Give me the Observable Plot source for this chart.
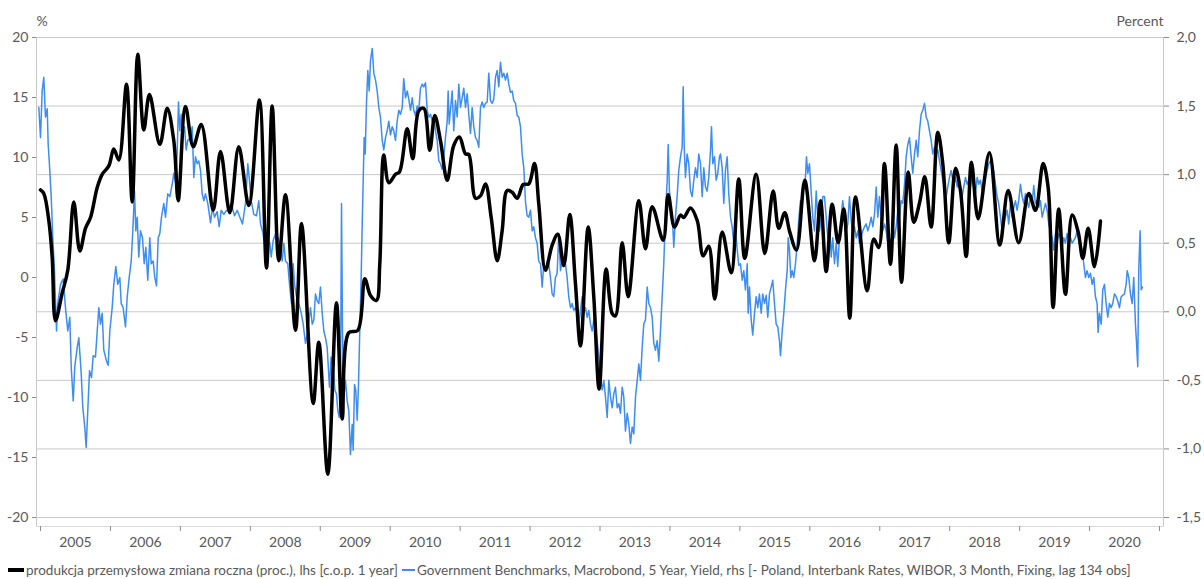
<!DOCTYPE html>
<html>
<head>
<meta charset="utf-8">
<script src="https://cdn.jsdelivr.net/npm/d3@7"></script>
<script src="https://cdn.jsdelivr.net/npm/@observablehq/plot@0.6"></script>
<style>
  html, body { margin: 0; padding: 0; background: #fff; }
  #chart svg { display: block; }
  #legend { height: 24px; display: flex; align-items: center; padding-left: 8px; font-family: Lato, sans-serif; font-size: 13.5px; color: #595959; white-space: nowrap; margin-top: 3px; }
  .sw { display: inline-block; width: 16px; margin-right: 2px; }
</style>
</head>
<body>
<div id="chart"></div>
<div id="legend">
  <span class="sw" style="height:4px;background:#000"></span><span>produkcja przemysłowa zmiana roczna (proc.), lhs [c.o.p. 1 year]</span>
  <span class="sw" style="height:2px;background:#3d8ef0;margin-left:4px;width:13px"></span><span>Government Benchmarks, Macrobond, 5 Year, Yield, rhs [- Poland, Interbank Rates, WIBOR, 3 Month, Fixing, lag 134 obs]</span>
</div>
<script>
// Left axis (%) and right axis (Percent) ticks
const leftTicks = [-20, -15, -10, -5, 0, 5, 10, 15, 20];
const rightTicks = [-1.5, -1.0, -0.5, 0.0, 0.5, 1.0, 1.5, 2.0];
const yearTicks = [2005,2006,2007,2008,2009,2010,2011,2012,2013,2014,2015,2016,2017,2018,2019,2020,2021];
const yearLabels = [2005,2006,2007,2008,2009,2010,2011,2012,2013,2014,2015,2016,2017,2018,2019,2020];

// Industrial production y/y (lhs), decimal years
const ipYears = [2005.00,2005.047,2005.119,2005.167,2005.214,2005.31,2005.39,2005.476,2005.562,2005.643,2005.715,2005.811,2005.882,2005.977,2006.048,2006.12,2006.23,2006.311,2006.391,2006.477,2006.558,2006.706,2006.812,2006.906,2006.969,2007.073,2007.183,2007.298,2007.469,2007.574,2007.707,2007.835,2007.978,2008.131,2008.231,2008.313,2008.407,2008.503,2008.646,2008.732,2008.899,2008.979,2009.108,2009.232,2009.314,2009.408,2009.537,2009.637,2009.718,2009.804,2009.851,2009.908,2009.98,2010.076,2010.133,2010.243,2010.323,2010.409,2010.48,2010.566,2010.638,2010.719,2010.815,2010.909,2010.991,2011.077,2011.124,2011.22,2011.291,2011.363,2011.444,2011.53,2011.601,2011.673,2011.744,2011.816,2011.902,2011.982,2012.063,2012.125,2012.22,2012.316,2012.396,2012.482,2012.568,2012.649,2012.721,2012.831,2012.911,2012.988,2013.088,2013.174,2013.221,2013.317,2013.403,2013.555,2013.65,2013.746,2013.903,2013.975,2014.065,2014.151,2014.198,2014.294,2014.39,2014.475,2014.555,2014.641,2014.747,2014.876,2014.984,2015.07,2015.233,2015.356,2015.476,2015.556,2015.642,2015.713,2015.809,2015.928,2016.067,2016.153,2016.234,2016.32,2016.406,2016.486,2016.571,2016.653,2016.82,2016.914,2016.986,2017.067,2017.153,2017.235,2017.311,2017.407,2017.486,2017.572,2017.644,2017.735,2017.83,2017.901,2017.987,2018.083,2018.154,2018.236,2018.311,2018.407,2018.568,2018.716,2018.836,2018.987,2019.13,2019.226,2019.336,2019.408,2019.479,2019.559,2019.655,2019.751,2019.837,2019.903,2019.98,2020.07,2020.156];
const ipValues = [7.3,7.0,4.75,1.7,-3.6,-1.3,0.6,6.3,2.2,4.1,5.0,7.5,8.6,9.3,10.7,9.8,16.1,6.3,18.6,12.3,15.25,11.1,14.1,11.4,6.4,14.25,10.9,12.75,5.6,10.5,5.4,10.9,6.0,14.8,0.8,14.3,1.4,6.9,-4.4,4.5,-10.5,-5.4,-16.4,-2.1,-11.8,-4.6,-4.4,-0.1,-1.5,-1.9,1.1,10.2,7.9,8.6,8.8,12.4,9.9,13.9,14.1,10.6,13.5,11.4,8.1,11.0,11.7,10.3,10.25,6.6,6.8,7.8,5.0,1.4,3.9,7.25,7.1,6.6,7.75,7.8,9.5,6.1,0.6,2.7,3.6,1.0,5.25,-0.5,-5.7,4.2,-1.6,-9.3,0.7,-3.0,-3.2,2.9,-1.6,6.4,2.4,5.9,3.1,6.9,4.2,5.2,5.0,5.8,4.75,1.8,2.6,-1.8,3.8,0.4,8.2,1.6,8.6,2.0,7.2,4.1,5.4,3.8,2.3,8.1,1.4,6.4,0.5,6.1,2.9,5.7,-3.4,6.7,-1.1,3.2,2.5,9.5,1.1,11.05,-0.4,8.8,4.6,6.3,8.4,4.2,12.1,9.5,2.9,9.1,7.25,1.75,9.6,4.9,10.4,2.7,7.25,2.9,7.0,5.6,9.5,7.5,-2.5,5.7,-1.4,5.2,3.8,1.6,4.1,0.9,4.7];

// WIBOR 3M-style 5Y yield series (rhs), decimal years
const wiborYears = [2004.976,2005.000,2005.024,2005.047,2005.071,2005.096,2005.110,2005.133,2005.153,2005.176,2005.200,2005.229,2005.247,2005.286,2005.325,2005.357,2005.390,2005.419,2005.439,2005.468,2005.490,2005.525,2005.548,2005.582,2005.605,2005.633,2005.653,2005.676,2005.701,2005.729,2005.753,2005.786,2005.811,2005.834,2005.858,2005.882,2005.905,2005.944,2005.968,2005.991,2006.025,2006.048,2006.077,2006.105,2006.134,2006.154,2006.182,2006.215,2006.240,2006.268,2006.297,2006.320,2006.344,2006.363,2006.383,2006.405,2006.430,2006.458,2006.483,2006.506,2006.534,2006.563,2006.583,2006.611,2006.634,2006.659,2006.683,2006.706,2006.730,2006.763,2006.787,2006.820,2006.849,2006.883,2006.906,2006.935,2006.955,2006.973,2006.992,2007.012,2007.030,2007.059,2007.083,2007.106,2007.145,2007.169,2007.192,2007.216,2007.240,2007.263,2007.288,2007.312,2007.335,2007.359,2007.392,2007.431,2007.459,2007.488,2007.526,2007.555,2007.584,2007.621,2007.659,2007.698,2007.741,2007.774,2007.812,2007.850,2007.888,2007.931,2007.964,2007.984,2008.013,2008.050,2008.088,2008.121,2008.146,2008.178,2008.203,2008.241,2008.279,2008.299,2008.327,2008.360,2008.393,2008.422,2008.432,2008.456,2008.479,2008.503,2008.536,2008.564,2008.589,2008.613,2008.632,2008.660,2008.693,2008.728,2008.756,2008.789,2008.822,2008.860,2008.885,2008.908,2008.932,2008.956,2008.979,2009.003,2009.028,2009.051,2009.075,2009.099,2009.132,2009.156,2009.185,2009.208,2009.232,2009.251,2009.271,2009.289,2009.304,2009.318,2009.337,2009.361,2009.385,2009.408,2009.432,2009.457,2009.471,2009.490,2009.508,2009.528,2009.547,2009.565,2009.585,2009.600,2009.614,2009.628,2009.643,2009.661,2009.680,2009.700,2009.718,2009.743,2009.766,2009.790,2009.814,2009.837,2009.861,2009.886,2009.908,2009.933,2009.957,2009.980,2010.004,2010.029,2010.051,2010.076,2010.100,2010.123,2010.147,2010.172,2010.194,2010.219,2010.243,2010.266,2010.290,2010.315,2010.337,2010.362,2010.386,2010.409,2010.433,2010.458,2010.480,2010.505,2010.529,2010.552,2010.576,2010.601,2010.623,2010.648,2010.672,2010.695,2010.719,2010.743,2010.766,2010.791,2010.815,2010.829,2010.844,2010.862,2010.886,2010.909,2010.934,2010.958,2010.981,2011.005,2011.029,2011.052,2011.077,2011.101,2011.124,2011.148,2011.172,2011.195,2011.220,2011.244,2011.267,2011.291,2011.315,2011.338,2011.363,2011.387,2011.410,2011.434,2011.458,2011.481,2011.506,2011.530,2011.553,2011.577,2011.601,2011.624,2011.649,2011.673,2011.696,2011.720,2011.744,2011.767,2011.792,2011.816,2011.839,2011.863,2011.887,2011.910,2011.935,2011.958,2011.981,2012.006,2012.030,2012.053,2012.077,2012.101,2012.124,2012.149,2012.173,2012.196,2012.220,2012.244,2012.267,2012.292,2012.316,2012.339,2012.363,2012.387,2012.411,2012.435,2012.459,2012.482,2012.506,2012.530,2012.553,2012.578,2012.602,2012.625,2012.649,2012.674,2012.697,2012.721,2012.745,2012.768,2012.792,2012.817,2012.840,2012.864,2012.888,2012.911,2012.935,2012.960,2012.983,2013.007,2013.031,2013.054,2013.078,2013.103,2013.126,2013.150,2013.174,2013.197,2013.221,2013.246,2013.269,2013.293,2013.317,2013.340,2013.364,2013.389,2013.412,2013.436,2013.460,2013.483,2013.508,2013.532,2013.555,2013.579,2013.603,2013.626,2013.650,2013.675,2013.698,2013.722,2013.746,2013.769,2013.793,2013.818,2013.841,2013.865,2013.889,2013.912,2013.936,2013.961,2013.975,2013.993,2014.018,2014.041,2014.055,2014.079,2014.103,2014.126,2014.151,2014.175,2014.189,2014.204,2014.222,2014.246,2014.269,2014.294,2014.318,2014.341,2014.365,2014.390,2014.412,2014.437,2014.461,2014.484,2014.508,2014.532,2014.555,2014.580,2014.594,2014.613,2014.637,2014.661,2014.684,2014.708,2014.723,2014.747,2014.770,2014.794,2014.818,2014.841,2014.866,2014.890,2014.913,2014.937,2014.961,2014.984,2015.009,2015.033,2015.056,2015.080,2015.105,2015.119,2015.137,2015.162,2015.184,2015.209,2015.233,2015.256,2015.280,2015.305,2015.327,2015.352,2015.376,2015.399,2015.423,2015.447,2015.470,2015.495,2015.519,2015.542,2015.566,2015.581,2015.605,2015.628,2015.652,2015.677,2015.691,2015.709,2015.728,2015.748,2015.771,2015.795,2015.820,2015.842,2015.866,2015.891,2015.914,2015.938,2015.952,2015.971,2015.995,2016.019,2016.042,2016.067,2016.091,2016.114,2016.138,2016.163,2016.185,2016.210,2016.234,2016.257,2016.281,2016.306,2016.328,2016.353,2016.377,2016.400,2016.424,2016.448,2016.471,2016.496,2016.520,2016.543,2016.567,2016.591,2016.614,2016.639,2016.663,2016.686,2016.710,2016.734,2016.757,2016.782,2016.806,2016.829,2016.853,2016.878,2016.901,2016.925,2016.949,2016.972,2016.996,2017.020,2017.043,2017.068,2017.092,2017.115,2017.139,2017.164,2017.186,2017.211,2017.235,2017.258,2017.282,2017.306,2017.329,2017.354,2017.378,2017.401,2017.425,2017.449,2017.472,2017.497,2017.521,2017.544,2017.568,2017.592,2017.615,2017.640,2017.664,2017.687,2017.711,2017.735,2017.758,2017.783,2017.807,2017.830,2017.854,2017.878,2017.901,2017.925,2017.950,2017.973,2017.997,2018.021,2018.044,2018.059,2018.083,2018.107,2018.130,2018.154,2018.178,2018.201,2018.226,2018.250,2018.273,2018.297,2018.321,2018.344,2018.369,2018.393,2018.416,2018.440,2018.464,2018.487,2018.511,2018.536,2018.559,2018.583,2018.607,2018.630,2018.654,2018.679,2018.701,2018.726,2018.750,2018.773,2018.797,2018.822,2018.844,2018.869,2018.893,2018.916,2018.940,2018.964,2018.987,2019.012,2019.036,2019.059,2019.083,2019.107,2019.130,2019.155,2019.179,2019.202,2019.226,2019.250,2019.273,2019.298,2019.322,2019.345,2019.369,2019.393,2019.416,2019.441,2019.465,2019.488,2019.512,2019.536,2019.559,2019.584,2019.608,2019.631,2019.655,2019.679,2019.702,2019.727,2019.751,2019.774,2019.798,2019.822,2019.845,2019.870,2019.894,2019.917,2019.941,2019.965,2019.988,2020.013,2020.037,2020.060,2020.084,2020.108,2020.122,2020.140,2020.166,2020.189,2020.213,2020.237,2020.260,2020.284,2020.309,2020.331,2020.356,2020.380,2020.403,2020.427,2020.452,2020.474,2020.499,2020.523,2020.538,2020.561,2020.585,2020.609,2020.632,2020.656,2020.670,2020.689,2020.703,2020.723,2020.738,2020.756];
const wiborValues = [1.49,1.27,1.61,1.71,1.42,1.48,1.22,1.03,0.84,0.54,0.30,-0.14,0.06,0.20,0.24,0.03,-0.14,-0.04,-0.40,-0.65,-0.40,-0.26,-0.19,-0.45,-0.70,-0.84,-0.99,-0.72,-0.43,-0.48,-0.32,-0.33,-0.14,0.03,-0.09,-0.01,-0.28,-0.36,-0.39,-0.14,0.03,0.20,0.33,0.20,0.25,0.06,0.03,-0.11,0.11,0.25,0.37,0.59,0.88,0.59,0.69,0.40,0.59,0.54,0.35,0.47,0.23,0.54,0.35,0.37,0.25,0.19,0.54,0.57,0.69,0.79,0.69,0.86,0.84,0.93,1.01,0.93,1.18,1.53,1.32,1.44,1.27,1.35,1.18,1.25,1.27,1.35,0.98,1.13,1.08,1.10,1.03,0.86,0.81,0.86,0.79,0.65,0.76,0.69,0.73,0.62,0.74,0.71,0.74,0.73,0.76,0.70,0.74,0.69,0.64,0.79,1.08,0.98,0.81,0.71,0.70,0.81,0.64,0.58,0.50,0.54,0.50,0.40,0.52,0.57,0.54,0.50,0.45,0.37,0.50,0.37,0.35,0.18,0.06,0.35,0.20,0.11,0.06,-0.01,-0.09,-0.23,-0.14,0.03,-0.09,-0.06,0.13,0.08,0.06,0.18,-0.01,-0.14,-0.19,-0.26,-0.55,-0.33,-0.40,-0.57,-0.60,-0.72,-0.77,-0.62,0.79,-0.14,-0.62,-0.50,-0.65,-0.72,-1.04,-0.82,-1.01,-0.53,-0.57,-0.79,-0.53,-0.14,0.25,0.64,0.96,1.27,1.15,1.52,1.76,1.61,1.83,1.92,1.74,1.69,1.61,1.49,1.42,1.25,1.18,1.27,1.32,1.39,1.29,1.35,1.32,1.25,1.39,1.47,1.44,1.49,1.70,1.56,1.61,1.55,1.47,1.56,1.47,1.43,1.50,1.47,1.63,1.66,1.64,1.67,1.47,1.42,1.44,1.39,1.42,1.32,1.25,1.10,1.08,1.04,1.13,1.27,1.39,1.61,1.37,1.47,1.61,1.32,1.54,1.42,1.66,1.49,1.56,1.63,1.49,1.59,1.44,1.30,1.49,1.35,1.27,1.25,1.20,1.49,1.53,1.49,1.52,1.53,1.74,1.54,1.52,1.55,1.71,1.76,1.64,1.82,1.71,1.74,1.69,1.74,1.66,1.60,1.61,1.54,1.52,1.43,1.42,1.35,1.15,1.05,0.80,0.70,0.69,0.74,0.59,0.62,0.54,0.50,0.37,0.35,0.18,0.35,0.30,0.37,0.35,0.25,0.13,0.11,0.25,0.28,0.57,0.30,0.37,0.33,0.35,0.25,0.11,0.03,0.06,0.01,0.03,-0.01,-0.09,0.01,0.11,-0.01,0.03,-0.04,0.01,-0.09,-0.14,-0.06,-0.11,-0.21,-0.33,-0.48,-0.57,-0.50,-0.62,-0.77,-0.50,-0.62,-0.70,-0.60,-0.55,-0.70,-0.67,-0.74,-0.55,-0.62,-0.87,-0.74,-0.82,-0.96,-0.84,-0.89,-0.62,-0.50,-0.38,-0.50,-0.26,-0.09,-0.06,0.18,0.06,0.03,-0.04,-0.23,-0.28,-0.21,-0.36,-0.14,0.11,0.35,0.71,0.96,1.22,0.88,0.69,0.62,0.47,0.69,0.84,1.03,1.13,1.20,1.64,1.20,0.98,1.15,1.08,0.88,0.84,0.96,1.05,0.98,1.15,1.08,0.84,1.05,0.91,0.88,0.98,1.18,1.35,1.08,1.13,0.96,1.01,1.13,1.15,1.05,0.79,1.03,1.13,0.86,0.69,0.62,0.50,0.59,0.46,0.34,0.35,0.23,0.30,0.16,0.35,-0.01,0.18,-0.06,-0.17,-0.01,0.11,0.03,0.13,-0.01,0.13,0.06,0.12,-0.04,0.13,0.18,0.23,0.06,-0.09,-0.11,-0.21,-0.32,-0.14,-0.01,0.16,0.30,0.54,0.45,0.25,0.30,0.25,0.35,0.50,0.67,0.81,0.79,0.93,0.98,1.13,1.01,1.08,0.88,0.69,0.59,0.88,0.69,0.59,0.69,0.84,0.84,0.69,0.54,0.64,0.40,0.54,0.35,0.50,0.33,0.54,0.69,0.81,0.69,0.59,0.64,0.84,0.67,0.57,0.62,0.54,0.59,0.50,0.54,0.59,0.62,0.64,0.59,0.63,0.69,0.62,0.71,0.91,0.69,0.84,0.69,0.59,0.64,0.59,0.50,0.35,0.50,0.64,0.54,0.62,0.74,0.69,0.81,0.79,0.93,1.13,1.22,1.27,1.13,1.01,1.15,1.25,1.13,1.32,1.44,1.47,1.52,1.42,1.39,1.32,1.25,1.15,1.20,1.15,1.18,1.10,1.03,0.96,0.88,0.84,0.91,0.98,1.03,0.96,0.93,0.98,0.91,0.96,0.86,0.84,0.91,0.98,0.93,0.96,0.91,0.98,0.91,0.86,0.98,0.93,0.96,0.88,0.96,0.98,1.03,1.08,1.10,1.05,1.03,0.93,0.84,0.79,0.69,0.59,0.64,0.69,0.74,0.64,0.79,0.69,0.76,0.81,0.74,0.81,0.93,0.84,0.79,0.86,0.81,0.76,0.84,0.79,0.92,0.79,0.81,0.76,0.81,0.69,0.74,0.79,0.74,0.64,0.59,0.54,0.45,0.57,0.50,0.57,0.54,0.47,0.54,0.50,0.57,0.52,0.54,0.50,0.52,0.54,0.59,0.54,0.50,0.45,0.35,0.25,0.30,0.25,0.28,0.20,0.25,0.11,0.06,-0.15,-0.01,-0.09,0.16,0.20,0.06,-0.04,0.06,0.03,0.06,0.13,0.11,0.08,0.03,0.11,0.12,0.13,0.20,0.30,0.25,0.13,0.06,0.25,-0.09,-0.21,-0.40,0.30,0.59,0.16,0.18];

// map right-axis values into the left-axis domain
const L = [-20, 20], R = [-1.5, 2.0];
const toLeft = r => L[0] + (r - R[0]) / (R[1] - R[0]) * (L[1] - L[0]);
const fromLeft = v => R[0] + (v - L[0]) / (L[1] - L[0]) * (R[1] - R[0]);
const fmtL = d => String(d);
const fmtR = d => (Math.round(d * 10) / 10).toFixed(1).replace(".", ",");

const gridColor = "#c9c9c9";
const textColor = "#595959";

const chart = Plot.plot({
  width: 1204,
  height: 555,
  marginLeft: 36,
  marginRight: 41,
  marginTop: 37,
  marginBottom: 29,
  style: { fontFamily: "Lato, sans-serif", fontSize: "14px", color: textColor, background: "#fff" },
  x: { type: "linear", domain: [2005, 2021], range: [40, 1159] },
  y: { domain: L, range: [517, 37] },
  marks: [
    Plot.ruleY(rightTicks.map(toLeft), { stroke: gridColor, strokeWidth: 1 }),
    Plot.frame({ anchor: "left", stroke: gridColor }),
    Plot.frame({ anchor: "right", stroke: gridColor }),
    Plot.frame({ anchor: "bottom", stroke: "#d9d9d9" }),
    Plot.axisY(leftTicks, { anchor: "left", tickSize: 4, tickPadding: 4, tickFormat: fmtL, stroke: "#8c8c8c", fill: textColor, label: null }),
    Plot.axisY(rightTicks.map(toLeft), { anchor: "right", tickSize: 5, tickPadding: 8, tickFormat: d => fmtR(fromLeft(d)), stroke: "#8c8c8c", fill: textColor, label: null }),
    Plot.axisX(yearTicks, { tickSize: 5, tickFormat: () => "", stroke: "#8c8c8c", label: null }),
    Plot.axisX(yearLabels.map(y => y + 0.5), { tickSize: 0, tickPadding: 11, tickFormat: d => String(Math.floor(d)), fill: textColor, label: null }),
    Plot.line(wiborValues, { x: wiborYears, y: wiborValues.map(toLeft), stroke: "#3d8ef0", strokeWidth: 1.5 }),
    Plot.line(ipValues, { x: ipYears, y: ipValues, stroke: "#000", strokeWidth: 3.5, curve: "catmull-rom" }),
    Plot.text(["%"], { frameAnchor: "top-left", dy: -21, fill: textColor }),
    Plot.text(["Percent"], { frameAnchor: "top-right", dy: -21, fill: textColor })
  ]
});
document.getElementById("chart").append(chart);
</script>
</body>
</html>
